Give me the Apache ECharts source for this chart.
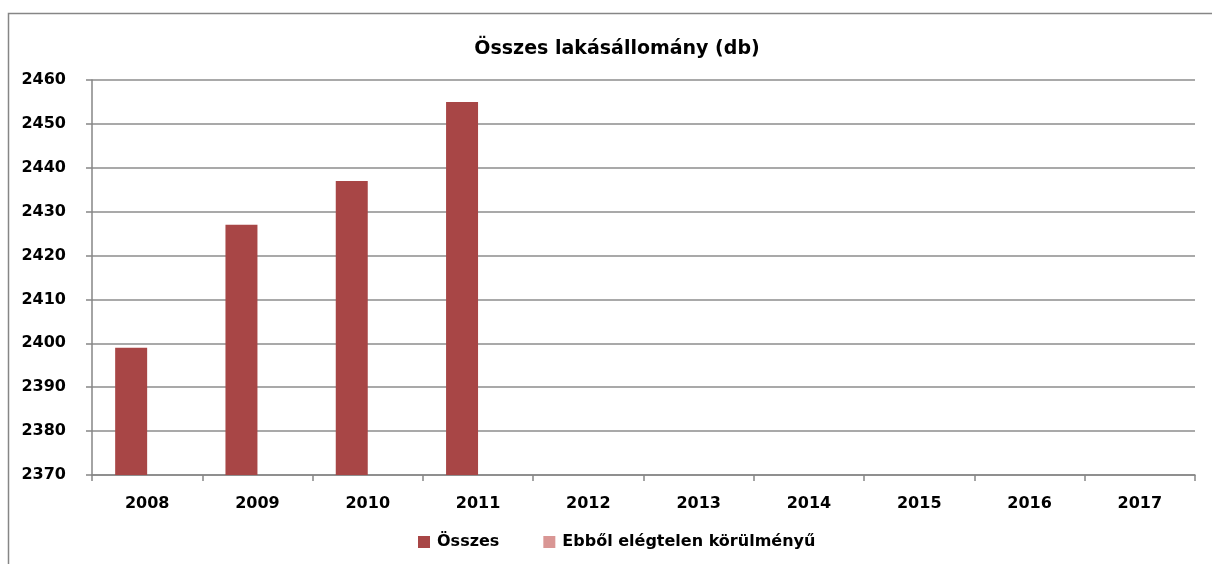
<!DOCTYPE html>
<html><head><meta charset="utf-8">
<script src="https://cdn.jsdelivr.net/npm/echarts@6/dist/echarts.min.js"></script>
<style>html,body{margin:0;padding:0;background:#fff}#c{width:1212px;height:564px}</style>
</head><body><div id="c"></div>
<script>
const categories = ['2008','2009','2010','2011','2012','2013','2014','2015','2016','2017'];
const osszes = [2399, 2427, 2437, 2455, null, null, null, null, null, null];
const elegtelen = [null, null, null, null, null, null, null, null, null, null];
const yTicks = {min: 2370, max: 2460, interval: 10};
const seriesNames = ['Összes', 'Ebből elégtelen körülményű'];
const titleText = 'Összes lakásállomány (db)';

const font = 'DejaVu Sans';
const chart = echarts.init(document.getElementById('c'), null, {renderer: 'canvas'});
chart.setOption({
  animation: false,
  backgroundColor: '#fff',
  graphic: [{
    type: 'rect', shape: {x: 8.5, y: 13.5, width: 1400, height: 700},
    style: {fill: 'none', stroke: '#868686', lineWidth: 1.5}, z: -1
  }],
  title: {
    text: titleText, left: 612, top: 35, textAlign: 'center',
    textStyle: {fontFamily: font, fontWeight: 'bold', fontSize: 19, color: '#000'}
  },
  legend: {
    data: seriesNames, top: 529, left: 413, itemWidth: 12, itemHeight: 12, itemGap: 44,
    icon: 'rect',
    textStyle: {fontFamily: font, fontWeight: 'bold', fontSize: 16, color: '#000', padding: [0, 0, 0, 2]}
  },
  grid: {left: 92, right: 17, top: 80, bottom: 89, containLabel: false},
  xAxis: {
    type: 'category', data: categories,
    axisLine: {lineStyle: {color: '#868686', width: 1.5}},
    axisTick: {show: true, length: 6, lineStyle: {color: '#868686', width: 1.5}},
    axisLabel: {fontFamily: font, fontWeight: 'bold', fontSize: 16, color: '#000', margin: 21}
  },
  yAxis: {
    type: 'value', min: yTicks.min, max: yTicks.max, interval: yTicks.interval,
    axisLine: {show: true, lineStyle: {color: '#868686', width: 1.5}},
    axisTick: {show: true, length: 6, lineStyle: {color: '#868686', width: 1.5}},
    splitLine: {lineStyle: {color: '#8c8c8c', width: 1.5}},
    axisLabel: {fontFamily: font, fontWeight: 'bold', fontSize: 16, color: '#000', margin: 26,
                formatter: v => String(v)}
  },
  series: [
    {name: seriesNames[0], type: 'bar', data: osszes, barGap: '0%', barCategoryGap: '42%',
     itemStyle: {color: '#A84646'}},
    {name: seriesNames[1], type: 'bar', data: elegtelen, barGap: '0%', barCategoryGap: '42%',
     itemStyle: {color: '#D99694'}}
  ]
});
</script></body></html>
